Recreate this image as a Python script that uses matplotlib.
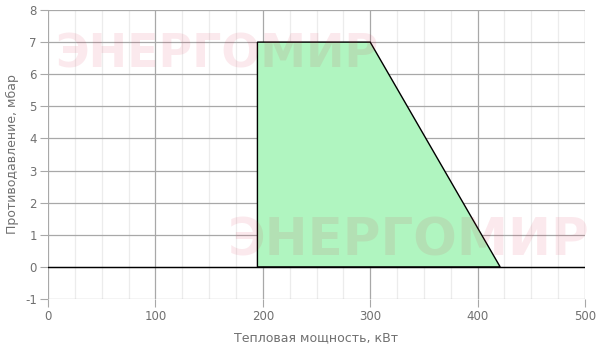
import numpy as np
import matplotlib
matplotlib.use("Agg")
from matplotlib import pyplot as plt
from matplotlib.ticker import MultipleLocator

plt.rcParams["axes.unicode_minus"] = False

# Working field of the burner (power, kW / back pressure, mbar)
power = [195, 195, 300, 421]
pressure = [0, 7, 7, 0]

xlim = (0, 500)
ylim = (-1, 8)
xlabel = "Тепловая мощность, кВт"
ylabel = "Противодавление, мбар"
watermark = "ЭНЕРГОМИР"

figure = plt.figure(figsize=(6, 3.5), dpi=100)
axis = figure.add_axes([0.08, 0.1457, 0.895, 0.8257])

axis.set_xlim(*xlim)
axis.set_ylim(*ylim)

axis.xaxis.set_major_locator(MultipleLocator(100))
axis.xaxis.set_minor_locator(MultipleLocator(25))
axis.yaxis.set_major_locator(MultipleLocator(1))

axis.grid(which="major", color="#a8a8a8", linewidth=0.9, zorder=0)
axis.grid(which="minor", axis="x", color="#ececec", linewidth=0.9, zorder=0)
axis.set_axisbelow(True)

for spine in axis.spines.values():
    spine.set_visible(False)

axis.tick_params(which="major", length=6, color="#a8a8a8", labelcolor="#707070",
                 labelsize=8.5, pad=2)
axis.tick_params(which="minor", length=0)

axis.axhline(0, color="black", linewidth=1, zorder=2)
axis.fill(power, pressure, facecolor="#b0f5c0", edgecolor="black",
          linewidth=1, zorder=3)

# Watermarks
axis.text(0.013, 0.845, watermark, transform=axis.transAxes, fontsize=33,
          fontweight="bold", color="#dc143c", alpha=0.09, va="center",
          ha="left", zorder=5)
axis.text(0.335, 0.2, watermark, transform=axis.transAxes, fontsize=37,
          fontweight="bold", color="#dc143c", alpha=0.09, va="center",
          ha="left", zorder=5)

axis.set_xlabel(xlabel, fontsize=9, color="#707070", labelpad=6)
axis.set_ylabel(ylabel, fontsize=9, color="#707070", labelpad=4)

plt.savefig("out.png", dpi=100)
